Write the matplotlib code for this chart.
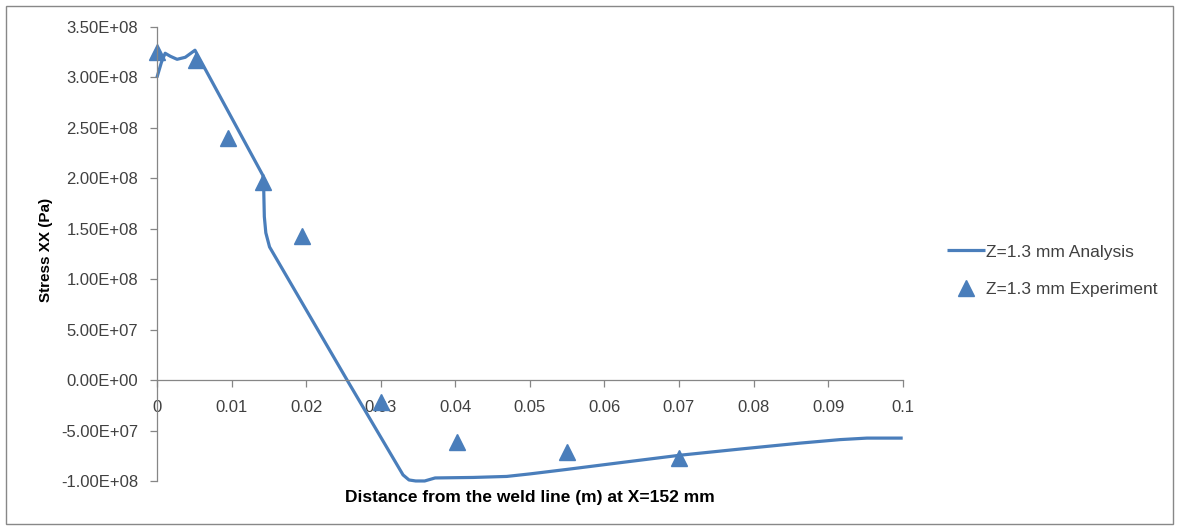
import numpy as np
import matplotlib.pyplot as plt
from matplotlib.patches import Rectangle

plt.rcParams['font.family'] = ['Liberation Sans', 'DejaVu Sans']

# analysis curve (Z=1.3 mm)
x_analysis = [0.0, 0.0006, 0.0011, 0.0018, 0.0027, 0.0038, 0.0051, 0.0142, 0.0143,
              0.0144, 0.0146, 0.0151, 0.0255, 0.0330, 0.0338, 0.0347, 0.0359,
              0.0366, 0.0373, 0.0424, 0.0469, 0.050, 0.055, 0.0625, 0.0701,
              0.078, 0.0862, 0.0916, 0.0952, 0.1]
y_analysis = [3.00e8, 3.15e8, 3.24e8, 3.21e8, 3.18e8, 3.20e8, 3.27e8, 2.03e8, 1.95e8,
              1.62e8, 1.46e8, 1.32e8, 0.0, -0.94e8, -0.99e8, -1.0e8, -1.0e8,
              -0.985e8, -0.97e8, -0.965e8, -0.955e8, -0.93e8, -0.885e8, -0.815e8, -0.745e8,
              -0.685e8, -0.625e8, -0.59e8, -0.575e8, -0.575e8]

# experiment points
x_exp = [0.0, 0.0053, 0.0095, 0.0142, 0.0195, 0.0301, 0.0402, 0.055, 0.070]
y_exp = [3.25e8, 3.17e8, 2.40e8, 1.96e8, 1.43e8, -0.22e8, -0.615e8, -0.71e8, -0.77e8]

yticks = np.arange(-1.0e8, 3.51e8, 0.5e8)
xticks = np.arange(0, 0.1001, 0.01)
xtick_labels = ['0', '0.01', '0.02', '0.03', '0.04', '0.05', '0.06', '0.07', '0.08', '0.09', '0.1']

blue = '#4A7EBB'
grey_txt = '#404040'

fig = plt.figure(figsize=(11.8, 5.3), dpi=100)
ax = fig.add_axes([0.133, 0.0925, 0.632, 0.8565])

ax.plot(x_analysis, y_analysis, color=blue, lw=2.3, label='Z=1.3 mm Analysis',
        solid_joinstyle='round', solid_capstyle='butt', clip_on=False)
ax.plot(x_exp, y_exp, ls='none', marker='^', ms=11, color=blue, clip_on=False,
        label='Z=1.3 mm Experiment')

ax.set_xlim(0, 0.1)
ax.set_ylim(-1.0e8, 3.5e8)
ax.set_yticks(yticks)
ax.set_yticklabels(['%.2E' % v for v in yticks])
ax.set_xticks(xticks)
ax.set_xticklabels(xtick_labels)

for s in ['top', 'right']:
    ax.spines[s].set_visible(False)
ax.spines['bottom'].set_position(('data', 0))
for s in ['left', 'bottom']:
    ax.spines[s].set_color('#868686')
    ax.spines[s].set_linewidth(0.9)
ax.tick_params(axis='both', colors='#868686', labelcolor=grey_txt, labelsize=12,
               length=5, width=0.9)
ax.tick_params(axis='x', pad=9)
ax.tick_params(axis='y', pad=8.5)

ax.set_ylabel('Stress XX (Pa)', fontsize=11, fontweight='bold', color='black')
ax.yaxis.set_label_coords(-0.139, 0.509)
fig.text(0.449, 0.062, 'Distance from the weld line (m) at X=152 mm', fontsize=12.5,
         fontweight='bold', ha='center', va='center')

ax.legend(loc='center left', bbox_to_anchor=(0.789, 0.489), bbox_transform=fig.transFigure,
          frameon=False, fontsize=12.5, handlelength=2.2, labelspacing=1.3,
          handletextpad=0.05, labelcolor=grey_txt)

fig.patches.append(Rectangle((0.005, 0.012), 0.989, 0.976, transform=fig.transFigure,
                             fill=False, edgecolor='#888888', lw=1.0))

fig.savefig('out.png', dpi=100)
